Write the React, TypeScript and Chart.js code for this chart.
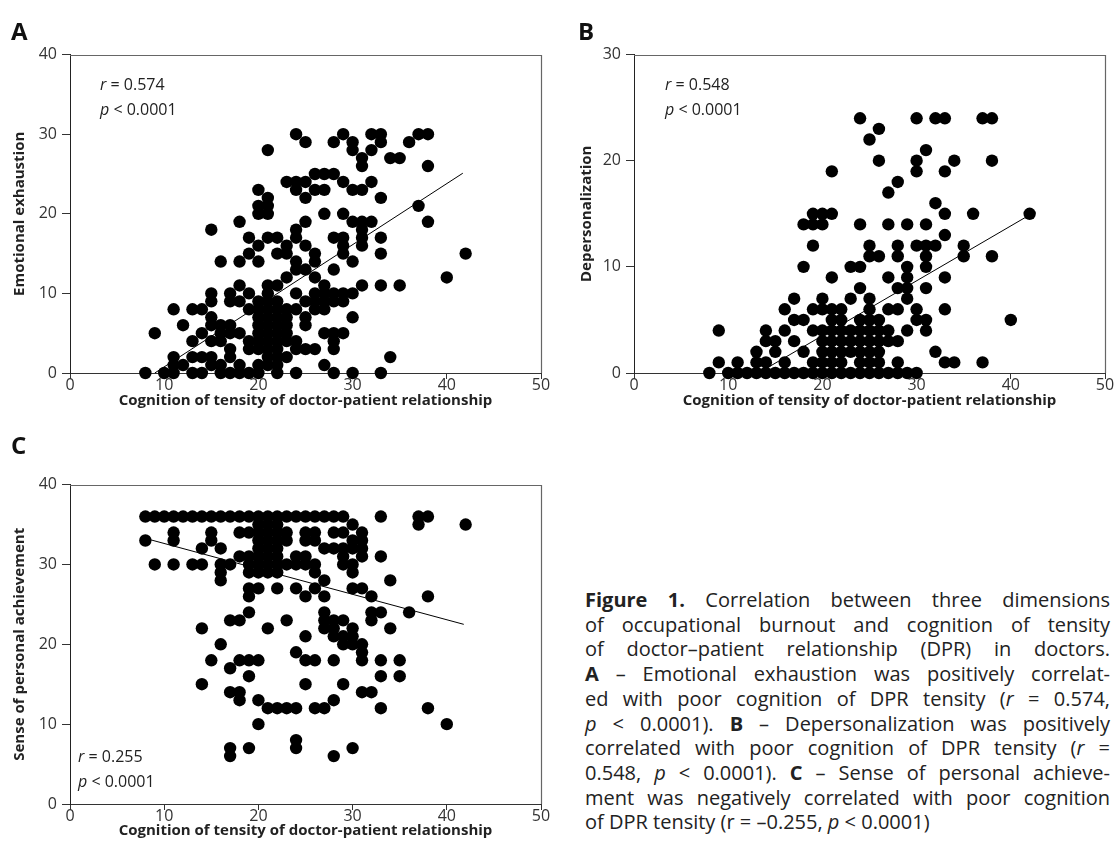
import React, { useEffect, useRef } from "react";
import { Chart, registerables } from "chart.js";
Chart.register(...registerables);

const FONT = "'Open Sans', 'Noto Sans', sans-serif";

const xTickValues = [0, 10, 20, 30, 40, 50];
const xTitle = "Cognition of tensity of doctor-patient relationship";

// Panel A – emotional exhaustion: [y, list of x values]
const exhaustionRows: [number, number[]][] = [
  [30, [24, 29, 32, 33, 37, 38]],
  [29, [25, 28, 30, 33, 36]],
  [28, [21, 30, 32]],
  [27, [31, 34, 35]],
  [26, [31, 38]],
  [25, [26, 27, 28]],
  [24, [23, 24, 25, 29, 32]],
  [23, [20, 24, 26, 27, 30, 31]],
  [22, [21, 25, 33]],
  [21, [20, 21, 37]],
  [20, [20, 21, 27, 29]],
  [19, [18, 25, 30, 31, 32, 38]],
  [18, [15, 24, 31]],
  [17, [19, 21, 22, 24, 28, 29, 31, 33]],
  [16, [20, 23, 25, 29, 31]],
  [15, [19, 22, 23, 26, 29, 33, 42]],
  [14, [16, 18, 20, 24, 26, 30]],
  [13, [24, 25, 28]],
  [12, [23, 26, 40]],
  [11, [18, 21, 22, 27, 31, 33, 35]],
  [10, [15, 17, 19, 21, 24, 26, 27, 28, 29, 30]],
  [9, [15, 17, 18, 20, 21, 22, 25, 26, 27, 28, 29]],
  [8, [11, 13, 14, 19, 20, 21, 22, 23, 24, 26, 27]],
  [7, [15, 20, 21, 22, 23, 25, 30]],
  [6, [12, 15, 16, 17, 20, 21, 22, 23, 25]],
  [5, [9, 14, 16, 17, 18, 20, 21, 22, 23, 27, 28, 29]],
  [4, [13, 15, 16, 19, 20, 21, 22, 23, 24, 28]],
  [3, [17, 19, 20, 21, 22, 24, 25, 26, 28]],
  [2, [11, 13, 14, 15, 17, 21, 22, 23, 34]],
  [1, [11, 12, 15, 16, 18, 20, 21, 22, 27]],
  [0, [8, 10, 11, 13, 14, 16, 17, 18, 19, 20, 22, 24, 28, 30, 33]],
];
const exhaustionFitX = [9.0, 41.7];
const exhaustionFitY = [0, 25.1];

// Panel B – depersonalization
const depersonalRows: [number, number[]][] = [
  [24, [24, 30, 32, 33, 37, 38]],
  [23, [26]],
  [22, [25]],
  [21, [31]],
  [20, [26, 30, 34, 38]],
  [19, [21, 30, 33]],
  [18, [28]],
  [17, [27]],
  [16, [32]],
  [15, [19, 20, 21, 33, 36, 42]],
  [14, [18, 19, 20, 24, 27, 29, 31]],
  [13, [33]],
  [12, [19, 25, 28, 30, 31, 32, 35]],
  [11, [25, 26, 28, 31, 35, 38]],
  [10, [18, 23, 24, 29, 31]],
  [9, [21, 27, 29, 33]],
  [8, [24, 28, 29, 31]],
  [7, [17, 20, 23, 25, 29]],
  [6, [16, 19, 20, 21, 22, 25, 27, 28, 30, 33]],
  [5, [17, 18, 21, 22, 24, 25, 26, 30, 31, 40]],
  [4, [9, 14, 16, 19, 20, 21, 22, 23, 24, 25, 26, 27, 29, 31]],
  [3, [14, 15, 17, 20, 21, 22, 23, 24, 25, 26, 27, 28]],
  [2, [13, 15, 18, 20, 21, 22, 23, 24, 25, 26, 32]],
  [1, [9, 11, 13, 14, 16, 19, 20, 21, 22, 24, 25, 26, 28, 33, 34, 37]],
  [0, [8, 10, 11, 12, 13, 14, 15, 16, 17, 18, 19, 20, 21, 22, 23, 24, 25, 26, 27, 28, 29, 30]],
];
const depersonalFitX = [13.2, 42.4];
const depersonalFitY = [0, 15.1];

// Panel C – sense of personal achievement
const achievementRows: [number, number[]][] = [
  [36, [8, 9, 10, 11, 12, 13, 14, 15, 16, 17, 18, 19, 20, 21, 22, 23, 24, 25, 26, 27, 28, 29, 33, 37, 38]],
  [35, [20, 21, 22, 30, 37, 42]],
  [34, [11, 15, 18, 19, 20, 21, 22, 23, 25, 26, 28, 29, 31]],
  [33, [8, 11, 15, 20, 21, 22, 23, 25, 26, 30, 31]],
  [32, [14, 16, 20, 21, 22, 27, 28, 29, 30, 31]],
  [31, [18, 19, 20, 21, 22, 24, 25, 29, 31, 33]],
  [30, [9, 11, 13, 14, 16, 17, 19, 20, 21, 22, 23, 24, 25, 26, 29, 30]],
  [29, [16, 19, 20, 21, 22, 26, 30]],
  [28, [16, 27, 34]],
  [27, [19, 20, 22, 24, 26, 30, 31]],
  [26, [19, 25, 27, 32, 38]],
  [24, [19, 27, 32, 33, 36]],
  [23, [17, 18, 23, 27, 28, 29, 32]],
  [22, [14, 21, 27, 28, 30, 34]],
  [21, [25, 28, 29, 30]],
  [20, [16, 29, 30, 31]],
  [19, [24, 31]],
  [18, [15, 18, 19, 20, 25, 26, 28, 31, 33, 35]],
  [17, [17]],
  [16, [19, 33, 35]],
  [15, [14, 25, 29]],
  [14, [17, 18, 31, 32]],
  [13, [18, 20, 28]],
  [12, [21, 22, 23, 24, 26, 27, 33, 38]],
  [10, [20, 40]],
  [8, [24]],
  [7, [17, 19, 24, 30]],
  [6, [17, 28]],
];
const achievementFitX = [8.2, 41.8];
const achievementFitY = [33.2, 22.5];

const framePlugin = {
  id: "frame",
  afterDraw(chart: any) {
    const { ctx, chartArea } = chart;
    const { left, right, top, bottom } = chartArea;
    ctx.save();
    ctx.strokeStyle = "#666";
    ctx.lineWidth = 1.2;
    ctx.beginPath();
    ctx.moveTo(left, Math.round(top) + 0.5);
    ctx.lineTo(Math.round(right) + 0.5, Math.round(top) + 0.5);
    ctx.lineTo(Math.round(right) + 0.5, bottom);
    ctx.stroke();
    ctx.restore();
  },
};

type PanelProps = {
  left: number;
  top: number;
  width: number;
  height: number;
  rows: [number, number[]][];
  fitX: number[];
  fitY: number[];
  yMax: number;
  yTitle: string;
  yAxisWidth: number;
  xAxisHeight: number;
  padTop: number;
  padRight: number;
  yTitlePad: number;
  xTitlePadBottom: number;
};

function Panel(p: PanelProps) {
  const ref = useRef<HTMLCanvasElement>(null);
  useEffect(() => {
    const pts = p.rows.flatMap(([y, xs]) => xs.map((x) => ({ x, y })));
    const fit = p.fitX.map((x, i) => ({ x, y: p.fitY[i] }));
    const tickFont = { family: FONT, size: 16 };
    const titleFont = { family: FONT, size: 15, weight: "bold" as const };
    const chart = new Chart(ref.current!, {
      type: "scatter",
      data: {
        datasets: [
          {
            type: "line",
            data: fit,
            borderColor: "#000",
            borderWidth: 1,
            pointRadius: 0,
            fill: false,
          } as any,
          {
            data: pts,
            backgroundColor: "#000",
            borderWidth: 0,
            pointRadius: 6.2,
            pointHoverRadius: 6.2,
            clip: false,
          } as any,
        ],
      },
      options: {
        responsive: false,
        animation: false,
        events: [],
        layout: { padding: { top: p.padTop, right: p.padRight, left: 0, bottom: 0 } },
        plugins: { legend: { display: false }, tooltip: { enabled: false } },
        scales: {
          x: {
            type: "linear",
            min: 0,
            max: 50,
            afterBuildTicks: (s: any) => {
              s.ticks = xTickValues.map((v) => ({ value: v }));
            },
            afterFit: (s: any) => {
              s.height = p.xAxisHeight;
            },
            ticks: { font: tickFont, color: "#333", padding: -3, maxRotation: 0 },
            grid: {
              drawOnChartArea: false,
              drawTicks: true,
              tickLength: 6,
              color: "#333",
              lineWidth: 1,
            },
            border: { display: true, color: "#333", width: 1 },
            title: {
              display: true,
              text: xTitle,
              font: titleFont,
              color: "#222",
              padding: { top: 0, bottom: p.xTitlePadBottom },
            },
          },
          y: {
            type: "linear",
            min: 0,
            max: p.yMax,
            ticks: { stepSize: 10, font: tickFont, color: "#333", padding: 5 },
            afterFit: (s: any) => {
              s.width = p.yAxisWidth;
            },
            grid: {
              drawOnChartArea: false,
              drawTicks: true,
              tickLength: 8,
              color: "#333",
              lineWidth: 1,
            },
            border: { display: true, color: "#222", width: 1 },
            title: {
              display: true,
              text: p.yTitle,
              font: titleFont,
              color: "#222",
              padding: { top: p.yTitlePad, bottom: 0 },
            },
          },
        },
      },
      plugins: [framePlugin],
    });
    return () => chart.destroy();
  }, []);
  return (
    <canvas
      ref={ref}
      width={p.width}
      height={p.height}
      style={{ position: "absolute", left: p.left, top: p.top, width: p.width, height: p.height }}
    />
  );
}

const abs = (left: number, top: number): React.CSSProperties => ({
  position: "absolute",
  left,
  top,
  whiteSpace: "nowrap",
});

function Stat({ left, top, r }: { left: number; top: number; r: string }) {
  return (
    <div style={{ ...abs(left, top), fontSize: 16, lineHeight: "25px", color: "#222" }}>
      <div>
        <i>r</i> = {r}
      </div>
      <div>
        <i>p</i> &lt; 0.0001
      </div>
    </div>
  );
}

const captionLines: React.ReactNode[] = [
  <><b>Figure 1.</b> Correlation between three dimensions</>,
  <>of occupational burnout and cognition of tensity</>,
  <>of doctor–patient relationship (DPR) in doctors.</>,
  <><b>A</b> – Emotional exhaustion was positively correlat-</>,
  <>ed with poor cognition of DPR tensity (<i>r</i> = 0.574,</>,
  <><i>p</i> &lt; 0.0001). <b>B</b> – Depersonalization was positively</>,
  <>correlated with poor cognition of DPR tensity (<i>r</i> =</>,
  <>0.548, <i>p</i> &lt; 0.0001). <b>C</b> – Sense of personal achieve-</>,
  <>ment was negatively correlated with poor cognition</>,
  <>of DPR tensity (r = –0.255, <i>p</i> &lt; 0.0001)</>,
];

export default function App() {
  return (
    <div
      style={{
        position: "absolute",
        left: 0,
        top: 0,
        width: 1118,
        height: 861,
        overflow: "hidden",
        background: "#fff",
        fontFamily: FONT,
        color: "#222",
      }}
    >
      <Panel
        left={0}
        top={40}
        width={560}
        height={400}
        rows={exhaustionRows}
        fitX={exhaustionFitX}
        fitY={exhaustionFitY}
        yMax={40}
        yTitle="Emotional exhaustion"
        yAxisWidth={70}
        xAxisHeight={67}
        padTop={14}
        padRight={19}
        yTitlePad={11}
        xTitlePadBottom={30}
      />
      <Panel
        left={570}
        top={40}
        width={548}
        height={400}
        rows={depersonalRows}
        fitX={depersonalFitX}
        fitY={depersonalFitY}
        yMax={30}
        yTitle="Depersonalization"
        yAxisWidth={64}
        xAxisHeight={67}
        padTop={14}
        padRight={13}
        yTitlePad={8}
        xTitlePadBottom={30}
      />
      <Panel
        left={0}
        top={470}
        width={560}
        height={391}
        rows={achievementRows}
        fitX={achievementFitX}
        fitY={achievementFitY}
        yMax={40}
        yTitle="Sense of personal achievement"
        yAxisWidth={70}
        xAxisHeight={57}
        padTop={14}
        padRight={19}
        yTitlePad={11}
        xTitlePadBottom={21}
      />
      <div style={{ ...abs(11, 14), fontSize: 24, fontWeight: "bold", color: "#111" }}>A</div>
      <div style={{ ...abs(578, 14), fontSize: 24, fontWeight: "bold", color: "#111" }}>B</div>
      <div style={{ ...abs(11, 428), fontSize: 24, fontWeight: "bold", color: "#111" }}>C</div>
      <Stat left={100} top={72} r="0.574" />
      <Stat left={665} top={72} r="0.548" />
      <Stat left={78} top={744} r="0.255" />
      <div
        style={{
          position: "absolute",
          left: 585,
          top: 588,
          width: 525,
          fontSize: 20,
          lineHeight: "24.7px",
          color: "#222",
        }}
      >
        {captionLines.map((line, i) => (
          <div
            key={i}
            style={{
              whiteSpace: "nowrap",
              textAlign: "justify",
              textAlignLast: i === captionLines.length - 1 ? "left" : "justify",
            }}
          >
            {line}
          </div>
        ))}
      </div>
    </div>
  );
}
